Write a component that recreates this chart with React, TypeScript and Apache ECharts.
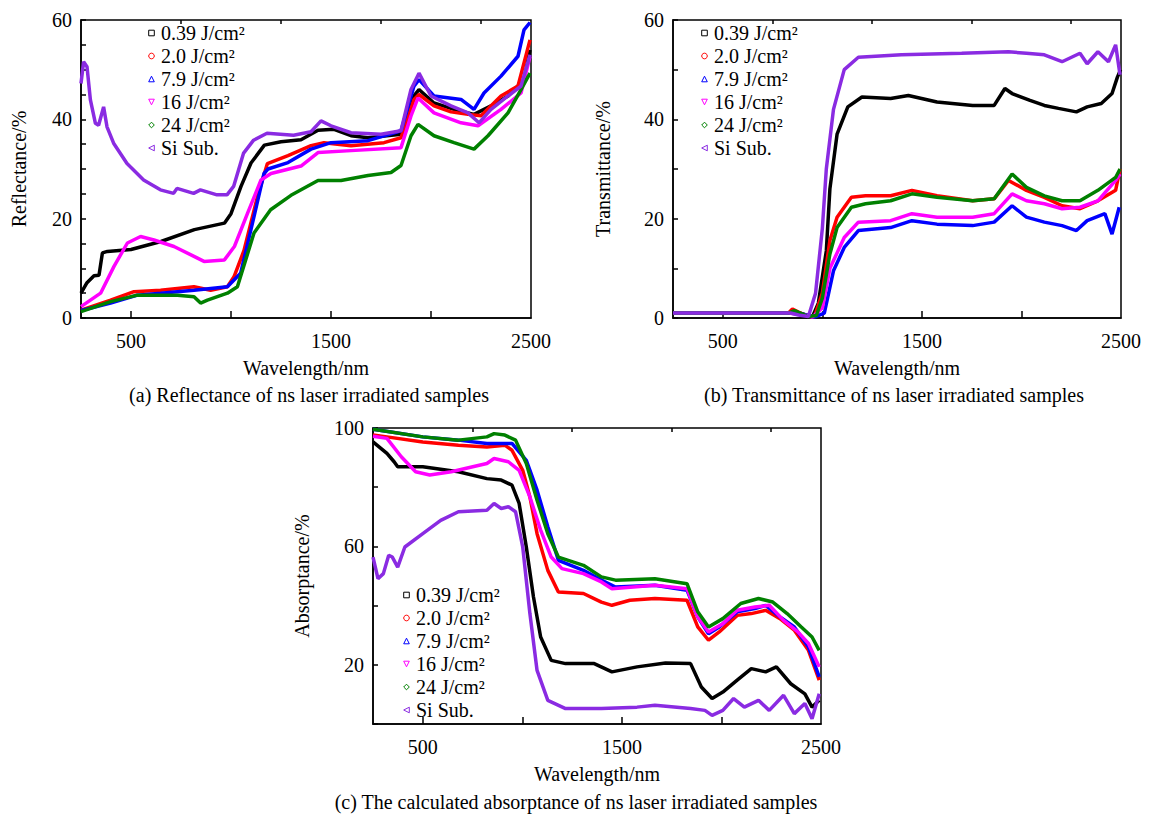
import React, { useEffect, useRef } from "react";
import * as echarts from "echarts";

const FONT = '"Liberation Serif", "Times New Roman", serif';

// ---------- legend / series names ----------
const seriesNames = ["0.39 J/cm²", "2.0 J/cm²", "7.9 J/cm²", "16 J/cm²", "24 J/cm²", "Si Sub."];

// ---------- x ticks ----------
const xLabelValues = [500, 1500, 2500];
const xMajorTicks = [500, 1000, 1500, 2000];
const xMinorTicks = [750, 1250, 1750, 2250];

// ---------- (a) Reflectance ----------
const refl039 = [[250,5],[280,7.1],[315,8.5],[340,8.6],[357,13.1],[382,13.4],[500,13.8],[650,15.4],[817,17.8],[967,19.1],[1000,21],[1050,26.5],[1100,31.2],[1167,34.8],[1250,35.5],[1350,35.9],[1435,37.8],[1515,38],[1600,36.7],[1685,36.3],[1850,37],[1900,44],[1940,46],[2015,43.3],[2115,42],[2215,41],[2300,42.7],[2385,44.7],[2465,48],[2495,54]];
const refl20 = [[250,1.6],[398,3.6],[515,5.3],[648,5.6],[815,6.3],[898,5.6],[982,6.3],[1015,8.3],[1065,13.6],[1132,24.4],[1182,31.1],[1285,32.7],[1400,34.7],[1465,35.3],[1600,34.7],[1765,35.3],[1850,36.3],[1915,44],[1940,45],[2015,42.7],[2100,41.5],[2185,41],[2250,40.7],[2350,44.7],[2435,46.7],[2495,56]];
const refl79 = [[250,1.5],[398,3],[532,4.6],[648,5],[815,5.6],[982,6.3],[1048,9],[1115,20.4],[1165,29.1],[1185,30],[1285,31.3],[1400,34],[1500,35.3],[1685,35.7],[1850,37.7],[1915,46.7],[1940,48],[2015,44.7],[2150,44],[2215,42],[2265,45.3],[2350,48.7],[2435,52.7],[2465,58],[2495,59.5]];
const refl16 = [[250,2.3],[348,5],[415,10.4],[482,15.1],[548,16.4],[615,15.7],[715,14.4],[815,12.4],[865,11.4],[967,11.7],[1017,14.4],[1083,21.1],[1150,27.8],[1200,29.1],[1350,30.6],[1435,33.3],[1600,33.7],[1850,34.3],[1900,40.7],[1935,44.3],[2015,41.3],[2150,39.3],[2235,38.7],[2350,42],[2450,45.3],[2495,52.7]];
const refl24 = [[250,1.3],[398,3.3],[532,4.6],[732,4.6],[815,4.3],[848,3],[882,3.6],[982,5],[1032,6.3],[1115,17.1],[1198,21.8],[1300,24.7],[1435,27.7],[1550,27.7],[1685,28.7],[1800,29.3],[1850,30.7],[1900,36.7],[1935,39],[2015,36.7],[2115,35.3],[2215,34],[2285,36.7],[2385,41.3],[2450,46],[2495,49.3]];
const reflSi = [[250,47.2],[263,51.6],[280,50.6],[297,43.9],[322,39.2],[338,38.8],[363,42.5],[380,38.5],[413,35.2],[480,31.1],[563,27.8],[647,25.8],[713,25.1],[730,26.1],[813,25.1],[847,25.8],[930,24.8],[980,24.8],[1013,26.5],[1063,33.2],[1113,35.8],[1180,37.2],[1313,36.8],[1400,37.5],[1450,39.7],[1500,38.7],[1600,37.3],[1750,37],[1850,37.7],[1900,46],[1940,49.3],[2000,44.7],[2100,42.7],[2185,41.3],[2240,39.3],[2300,42],[2385,44.7],[2450,46.7],[2495,53]];

// ---------- (b) Transmittance ----------
const trans039 = [[250,1],[830,1],[860,1.2],[900,0.8],[950,0.2],[980,3],[1020,13.5],[1038,26],[1074,37],[1128,42.5],[1199,44.5],[1343,44.2],[1432,44.8],[1576,43.5],[1755,42.8],[1863,42.8],[1917,46.2],[1953,45.2],[2043,43.8],[2115,42.8],[2186,42.2],[2276,41.5],[2330,42.5],[2401,43.2],[2455,45.2],[2482,48.5],[2498,50]];
const trans20 = [[250,1],[830,1],[850,1.8],[880,1.2],[920,0.5],[960,0.2],[1000,5],[1038,15.6],[1074,20.3],[1146,24.3],[1217,24.6],[1343,24.6],[1450,25.7],[1576,24.6],[1755,23.6],[1863,24],[1935,27.7],[2025,25.7],[2115,24.3],[2204,22.6],[2294,22],[2384,23.6],[2473,25.7],[2495,30]];
const trans79 = [[250,1],[830,1],[900,0.8],[960,0.2],[1010,1],[1056,9.5],[1110,14.2],[1181,17.6],[1343,18.2],[1450,19.6],[1576,18.9],[1755,18.6],[1863,19.3],[1953,22.6],[2025,20.3],[2115,19.3],[2204,18.6],[2276,17.6],[2330,19.6],[2419,21],[2455,16.9],[2491,22.3]];
const trans16 = [[250,1],[830,1],[900,0.7],[950,0.2],[1000,2],[1038,10],[1110,16.2],[1181,19.3],[1343,19.6],[1450,21],[1576,20.3],[1755,20.3],[1863,21],[1953,25],[2025,23.6],[2115,23],[2204,22],[2294,22.3],[2384,23.6],[2473,27.7],[2495,29]];
const trans24 = [[250,1],[830,1],[860,1.5],[890,1],[930,0.3],[970,0.5],[1000,4],[1038,12.9],[1074,18.2],[1146,22.3],[1217,23],[1343,23.6],[1450,25],[1576,24.3],[1755,23.6],[1863,24],[1953,29],[2025,26.3],[2115,24.6],[2204,23.6],[2294,23.6],[2384,25.7],[2473,28.3],[2495,30]];
const transSi = [[250,1],[840,1],[880,0.6],[930,0.3],[966,5],[1000,18],[1020,30],[1056,42],[1110,50],[1181,52.5],[1397,53],[1700,53.3],[1935,53.6],[2025,53.3],[2115,53],[2204,51.6],[2294,53.3],[2330,51.2],[2384,53.6],[2437,51.6],[2473,55],[2495,49]];

// ---------- (c) Absorptance ----------
const abs039 = [[250,95.3],[320,91.4],[356,88.6],[374,86.9],[500,86.9],[679,85.2],[822,82.9],[894,82.4],[948,80.7],[984,74.5],[1020,59.8],[1056,42.9],[1092,29.4],[1145,21.5],[1217,20.4],[1361,20.4],[1450,17.6],[1576,19.3],[1719,20.6],[1845,20.4],[1899,12.5],[1953,8.6],[2007,10.8],[2079,14.8],[2150,18.7],[2222,17.6],[2276,19.3],[2348,13.6],[2419,10.2],[2455,5.7],[2491,8]];
const abs20 = [[250,97.6],[320,97],[500,95.3],[679,94.2],[822,93.6],[912,94.2],[948,92.5],[1002,85.7],[1038,76.7],[1074,64.3],[1128,51.9],[1181,44.6],[1307,44.1],[1397,41.2],[1450,40.1],[1540,41.8],[1666,42.4],[1827,41.8],[1881,32.8],[1935,28.3],[1989,31.1],[2079,36.7],[2150,37.3],[2222,38.4],[2294,35.6],[2366,31.7],[2437,24.9],[2491,14.8]];
const abs79 = [[250,99.6],[500,97],[679,95.9],[822,94.8],[948,94.8],[1020,89.1],[1074,79],[1128,66.6],[1181,55.3],[1307,51.9],[1397,48.6],[1468,46.3],[1666,46.9],[1827,45.2],[1881,36.2],[1935,30.5],[1989,32.8],[2079,37.9],[2168,39],[2222,40.1],[2294,36.2],[2366,32.8],[2437,26],[2491,15.9]];
const abs16 = [[250,97.2],[320,96.5],[392,90.3],[464,85.2],[535,84.1],[643,85.2],[751,86.9],[822,88],[858,89.7],[930,88.6],[984,85.7],[1038,76.7],[1092,65.5],[1145,56.4],[1199,52.5],[1307,50.8],[1397,48],[1450,45.7],[1666,46.9],[1827,45.7],[1881,36.2],[1935,31.1],[2007,33.9],[2079,38.4],[2168,39.5],[2240,40.1],[2312,35],[2384,31.1],[2437,27.2],[2491,19.3]];
const abs24 = [[250,99.6],[500,97],[679,95.9],[822,97],[858,98.1],[912,97.6],[966,95.9],[1020,88],[1074,75.6],[1128,64.3],[1181,56.4],[1307,53.6],[1397,49.7],[1468,48.6],[1666,49.1],[1827,47.4],[1881,37.9],[1935,32.8],[2007,35.6],[2097,40.7],[2186,42.4],[2258,41.2],[2330,37.3],[2401,32.8],[2455,29.4],[2491,24.9]];
const absSi = [[250,56.4],[275,49.1],[302,50.8],[329,57],[347,56.4],[374,53],[410,59.8],[500,64.3],[590,68.8],[679,71.7],[822,72.2],[858,74.5],[894,72.8],[930,73.4],[966,71.7],[1002,59.8],[1038,37.3],[1074,18.1],[1128,8],[1217,5.2],[1397,5.2],[1576,5.7],[1666,6.3],[1845,5.2],[1917,4.6],[1953,2.9],[2007,4.6],[2061,8.6],[2115,5.7],[2186,8],[2240,4.6],[2312,9.7],[2366,3.5],[2419,6.9],[2455,1.8],[2491,10.2]];

const panelData = [
  [refl039, refl20, refl79, refl16, refl24, reflSi],
  [trans039, trans20, trans79, trans16, trans24, transSi],
  [abs039, abs20, abs79, abs16, abs24, absSi],
];

const STYLES = [
  { color: "#000000", symbol: "rect", rotate: 0 },
  { color: "#ff0000", symbol: "circle", rotate: 0 },
  { color: "#0000ff", symbol: "triangle", rotate: 0 },
  { color: "#ff00ff", symbol: "triangle", rotate: 180 },
  { color: "#008000", symbol: "diamond", rotate: 0 },
  { color: "#8a2be2", symbol: "triangle", rotate: 90 },
];

const GRIDS = [
  { left: 81, top: 20, width: 450, height: 298 },
  { left: 673, top: 20, width: 448, height: 298 },
  { left: 373, top: 428, width: 448, height: 296 },
];

const Y_AXES = [
  { name: "Reflectance/%", min: 0, max: 60, interval: 5, labels: [0, 20, 40, 60], gap: 52 },
  { name: "Transmittance/%", min: 0, max: 60, interval: 10, labels: [0, 20, 40, 60], gap: 60 },
  { name: "Absorptance/%", min: 0, max: 100, interval: 20, labels: [20, 60, 100], gap: 61 },
];

const LEGEND_POS = [
  { left: 146, top: 23 },
  { left: 699, top: 23 },
  { left: 401, top: 585 },
];

const CAPTIONS = [
  { text: "(a) Reflectance of ns laser irradiated samples", x: 309, y: 395 },
  { text: "(b) Transmittance of ns laser irradiated samples", x: 894, y: 395 },
  { text: "(c) The calculated absorptance of ns laser irradiated samples", x: 576, y: 802 },
];

const textBase = { fontFamily: FONT, fontSize: 20, color: "#000" };

function buildOption() {
  const grid: any[] = [];
  const xAxis: any[] = [];
  const yAxis: any[] = [];
  const series: any[] = [];
  const legend: any[] = [];

  GRIDS.forEach((g, i) => {
    grid.push({ ...g, show: true, borderColor: "#000", borderWidth: 1.5, backgroundColor: "transparent" });
    xAxis.push({
      type: "value",
      gridIndex: i,
      min: 250,
      max: 2500,
      interval: 250,
      name: "Wavelength/nm",
      nameLocation: "middle",
      nameGap: 40,
      nameTextStyle: { ...textBase },
      axisLine: { show: true, lineStyle: { color: "#000", width: 1.5 } },
      axisTick: { show: true, inside: true, length: 7, customValues: xMajorTicks, lineStyle: { color: "#000", width: 1.5 } },
      axisLabel: {
        ...textBase,
        margin: 13,
        customValues: xLabelValues,
        formatter: (v: number) => (xLabelValues.includes(v) ? String(v) : ""),
      },
      splitLine: { show: false },
    });
    xAxis.push({
      type: "value",
      gridIndex: i,
      min: 250,
      max: 2500,
      interval: 250,
      axisLine: { show: false },
      axisTick: { show: true, inside: true, length: 4, customValues: xMinorTicks, lineStyle: { color: "#000", width: 1.5 } },
      axisLabel: { show: false },
      splitLine: { show: false },
    });
    const ya = Y_AXES[i];
    yAxis.push({
      type: "value",
      gridIndex: i,
      min: ya.min,
      max: ya.max,
      interval: ya.interval,
      name: ya.name,
      nameLocation: "middle",
      nameGap: ya.gap,
      nameTextStyle: { ...textBase },
      axisLine: { show: true, lineStyle: { color: "#000", width: 1.5 } },
      axisTick: { show: true, inside: true, length: 5, lineStyle: { color: "#000", width: 1.5 } },
      axisLabel: {
        ...textBase,
        margin: 9,
        formatter: (v: number) => (ya.labels.includes(v) ? String(v) : ""),
      },
      splitLine: { show: false },
    });

    panelData[i].forEach((data, k) => {
      const st = STYLES[k];
      series.push({
        type: "line",
        name: seriesNames[k],
        xAxisIndex: i * 2,
        yAxisIndex: i,
        data,
        symbol: st.symbol,
        symbolRotate: st.rotate,
        symbolSize: 5,
        showSymbol: false,
        itemStyle: { color: st.color, borderColor: st.color },
        lineStyle: { color: st.color, width: 3.5 },
        emphasis: { disabled: true },
        z: 2 + k,
      });
    });

    legend.push({
      ...LEGEND_POS[i],
      orient: "vertical",
      padding: 0,
      itemGap: 3,
      itemWidth: 9,
      itemHeight: 7,
      selectedMode: false,
      data: seriesNames,
      lineStyle: { opacity: 0 },
      itemStyle: { color: "#fff", borderColor: "inherit", borderWidth: 1 },
      textStyle: { ...textBase, lineHeight: 20 },
    });
  });

  const graphic = CAPTIONS.map((c) => ({
    type: "text",
    x: c.x,
    y: c.y,
    style: {
      text: c.text,
      fontFamily: FONT,
      fontSize: 20,
      fill: "#000",
      align: "center",
      verticalAlign: "middle",
      textAlign: "center",
      textVerticalAlign: "middle",
    },
  }));

  return {
    animation: false,
    backgroundColor: "#fff",
    grid,
    xAxis,
    yAxis,
    series,
    legend,
    graphic,
  };
}

export default function App() {
  const ref = useRef<HTMLDivElement>(null);
  useEffect(() => {
    if (!ref.current) return;
    const chart = echarts.init(ref.current, null, { renderer: "svg" });
    chart.setOption(buildOption() as any);
    return () => chart.dispose();
  }, []);
  return (
    <div
      ref={ref}
      style={{ position: "absolute", left: 0, top: 0, width: 1149, height: 814 }}
    />
  );
}
